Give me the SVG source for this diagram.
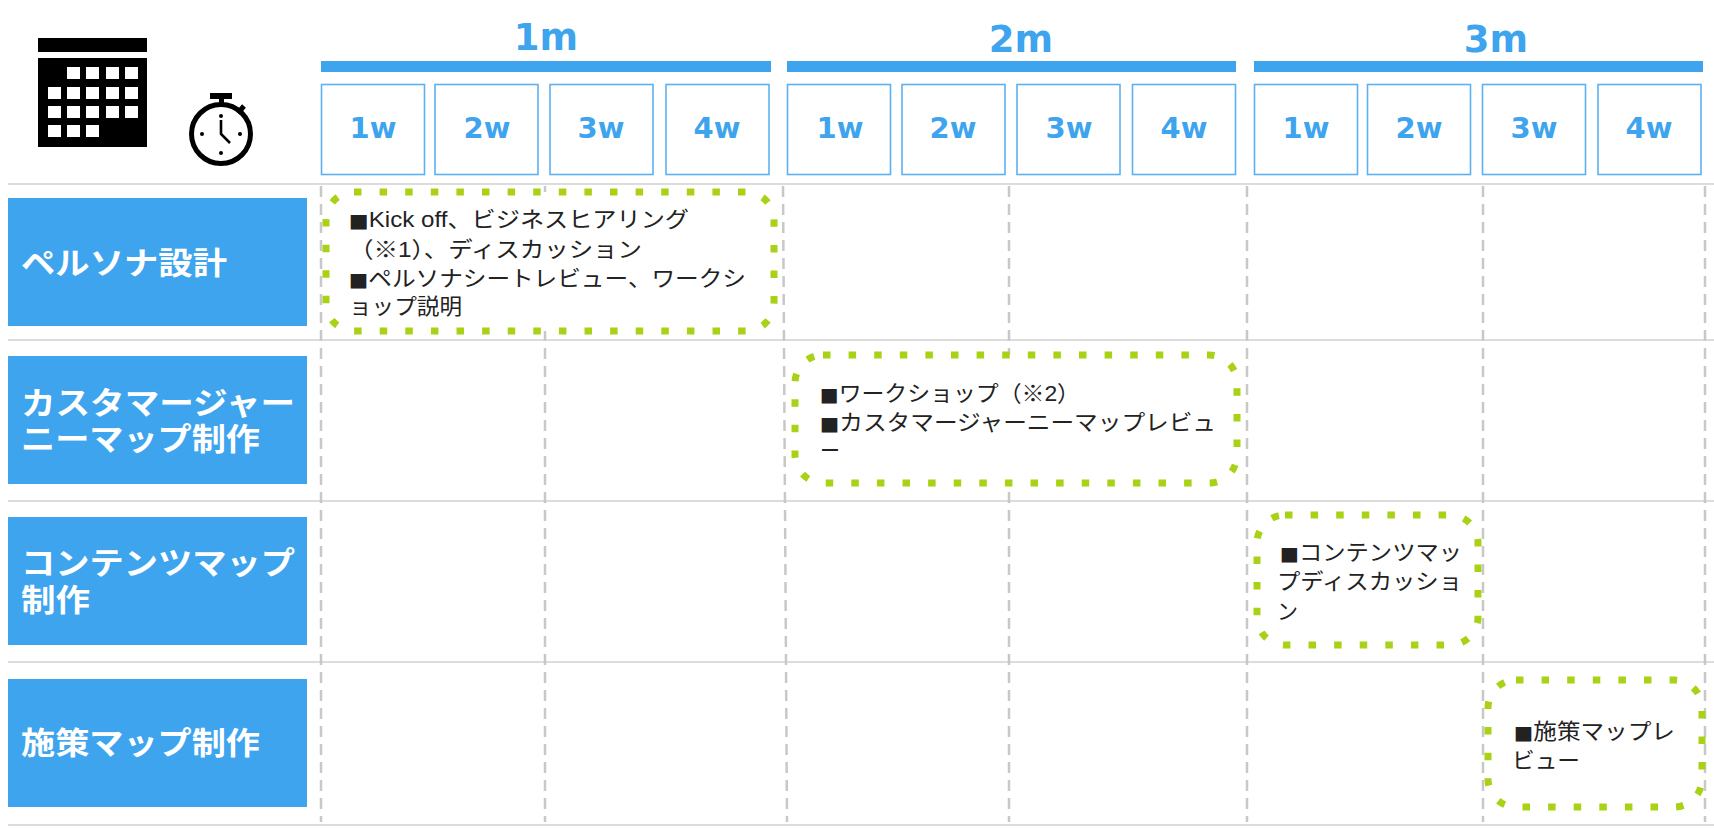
<svg xmlns="http://www.w3.org/2000/svg" width="1714" height="829" viewBox="0 0 1714 829">
<style>
.h{fill:#dcdcdc}
.v{stroke:#c8c8c8;stroke-width:2.5;stroke-dasharray:11 7;fill:none}
.bar{fill:#3fa4ee}
.wk{fill:#fff;stroke:#5db1f0;stroke-width:1.6}
.m{font:bold 37px "DejaVu Sans",Verdana,sans-serif;fill:#3fa4ee;text-anchor:middle}
.w{font:bold 29px "DejaVu Sans",Verdana,sans-serif;fill:#3fa4ee;text-anchor:middle}
.lab{fill:#3fa4ee}
.lt{font:bold 31px "Liberation Sans","Noto Sans CJK JP",sans-serif;fill:#fff}
.dot{fill:#fff;stroke:#a9d116;stroke-width:7;stroke-dasharray:7.500 18.100}
.bt{font:22px "Liberation Sans","Noto Sans CJK JP",sans-serif;fill:#222}
.sm{font-family:"DejaVu Sans",sans-serif;font-size:19px}
.ico{fill:#000}
.sq{fill:#fff}
</style>
<rect width="1714" height="829" fill="#fff"/>
<g id="grid">
<rect class="h" x="8" y="183" width="1706" height="2"/>
<rect class="h" x="8" y="339" width="1706" height="2"/>
<rect class="h" x="8" y="500" width="1706" height="2"/>
<rect class="h" x="8" y="661" width="1706" height="2"/>
<rect class="h" x="8" y="824" width="1706" height="2"/>
<path class="v" d="M321 186V822"/>
<path class="v" d="M545 186V822"/>
<path class="v" d="M783 186L787 822"/>
<path class="v" d="M1009 186V822"/>
<path class="v" d="M1247 186V822"/>
<path class="v" d="M1483 186V822"/>
<path class="v" d="M1705 186V822"/>
</g>
<g id="calendar-icon">
<rect class="ico" x="38" y="38" width="109" height="14"/>
<path class="ico" d="M38 58H147V147H38Z"/>
<g class="sq">
<rect x="67" y="67" width="13" height="12"/><rect x="86" y="67" width="13" height="12"/><rect x="106" y="67" width="13" height="12"/><rect x="125" y="67" width="13" height="12"/>
<rect x="48" y="87" width="13" height="12"/><rect x="67" y="87" width="13" height="12"/><rect x="86" y="87" width="13" height="12"/><rect x="106" y="87" width="13" height="12"/><rect x="125" y="87" width="13" height="12"/>
<rect x="48" y="106" width="13" height="12"/><rect x="67" y="106" width="13" height="12"/><rect x="86" y="106" width="13" height="12"/><rect x="106" y="106" width="13" height="12"/><rect x="125" y="106" width="13" height="12"/>
<rect x="48" y="125" width="13" height="12"/><rect x="67" y="125" width="13" height="12"/><rect x="86" y="125" width="13" height="12"/>
</g>
</g>
<g id="stopwatch-icon">
<circle cx="221" cy="134" r="29.500" fill="#fff" stroke="#000" stroke-width="5"/>
<rect class="ico" x="210" y="93" width="22" height="6"/>
<rect class="ico" x="219" y="98" width="5" height="6"/>
<path d="M238 113L244 106" stroke="#000" stroke-width="5" fill="none"/>
<path d="M221 120V134L230 143" stroke="#000" stroke-width="2.600" fill="none"/>
<circle class="ico" cx="221" cy="116" r="2"/><circle class="ico" cx="221" cy="153" r="2"/><circle class="ico" cx="202" cy="134" r="2"/><circle class="ico" cx="240" cy="134" r="2"/>
</g>
<g id="month-1">
<text class="m" x="546" y="50">1m</text><rect class="bar" x="321" y="61" width="450" height="11"/>
</g>
<g id="month-2">
<text class="m" x="1021" y="52">2m</text><rect class="bar" x="787" y="61" width="449" height="11"/>
</g>
<g id="month-3">
<text class="m" x="1496" y="52">3m</text><rect class="bar" x="1254" y="61" width="449" height="11"/>
</g>
<g id="weeks">
<rect class="wk" x="321.500" y="84.500" width="103" height="90"/><text class="w" x="373" y="138">1w</text>
<rect class="wk" x="435" y="84.500" width="103" height="90"/><text class="w" x="487" y="138">2w</text>
<rect class="wk" x="550" y="84.500" width="103" height="90"/><text class="w" x="601" y="138">3w</text>
<rect class="wk" x="666" y="84.500" width="103" height="90"/><text class="w" x="717" y="138">4w</text>
<rect class="wk" x="787.500" y="84.500" width="103" height="90"/><text class="w" x="840" y="138">1w</text>
<rect class="wk" x="902" y="84.500" width="103" height="90"/><text class="w" x="953" y="138">2w</text>
<rect class="wk" x="1017" y="84.500" width="103" height="90"/><text class="w" x="1069" y="138">3w</text>
<rect class="wk" x="1132.500" y="84.500" width="103" height="90"/><text class="w" x="1184" y="138">4w</text>
<rect class="wk" x="1254.500" y="84.500" width="103" height="90"/><text class="w" x="1306" y="138">1w</text>
<rect class="wk" x="1367.500" y="84.500" width="103" height="90"/><text class="w" x="1419" y="138">2w</text>
<rect class="wk" x="1482.500" y="84.500" width="103" height="90"/><text class="w" x="1534" y="138">3w</text>
<rect class="wk" x="1598" y="84.500" width="103" height="90"/><text class="w" x="1649" y="138">4w</text>
</g>
<g id="row-persona">
<rect class="lab" x="8" y="198" width="299" height="128"/>
<text class="lt" x="21" y="274" textLength="206" lengthAdjust="spacingAndGlyphs">ペルソナ設計</text>
</g>
<g id="row-journey">
<rect class="lab" x="8" y="356" width="299" height="128"/>
<text class="lt" x="21" y="414" textLength="274" lengthAdjust="spacingAndGlyphs">カスタマージャー</text>
<text class="lt" x="21" y="450" textLength="239" lengthAdjust="spacingAndGlyphs">ニーマップ制作</text>
</g>
<g id="row-content">
<rect class="lab" x="8" y="517" width="299" height="128"/>
<text class="lt" x="21" y="574" textLength="274" lengthAdjust="spacingAndGlyphs">コンテンツマップ</text>
<text class="lt" x="21" y="611" textLength="69" lengthAdjust="spacingAndGlyphs">制作</text>
</g>
<g id="row-measure">
<rect class="lab" x="8" y="679" width="299" height="128"/>
<text class="lt" x="21" y="754" textLength="239" lengthAdjust="spacingAndGlyphs">施策マップ制作</text>
</g>
<g id="task-1">
<rect class="dot" x="326" y="192" width="448" height="139" rx="28"/>
<text class="bt" x="349" y="227" textLength="340" lengthAdjust="spacingAndGlyphs"><tspan class="sm">■</tspan>Kick off、ビジネスヒアリング</text>
<text class="bt" x="349" y="257" textLength="293" lengthAdjust="spacingAndGlyphs">（※1）、ディスカッション</text>
<text class="bt" x="349" y="286" textLength="397" lengthAdjust="spacingAndGlyphs"><tspan class="sm">■</tspan>ペルソナシートレビュー、ワークシ</text>
<text class="bt" x="349" y="314" textLength="113" lengthAdjust="spacingAndGlyphs">ョップ説明</text>
</g>
<g id="task-2">
<rect class="dot" x="795" y="355" width="442" height="128" rx="28"/>
<text class="bt" x="820" y="401" textLength="260" lengthAdjust="spacingAndGlyphs"><tspan class="sm">■</tspan>ワークショップ（※2）</text>
<text class="bt" x="820" y="430" textLength="396" lengthAdjust="spacingAndGlyphs"><tspan class="sm">■</tspan>カスタマージャーニーマップレビュ</text>
<text class="bt" x="820" y="458" textLength="20" lengthAdjust="spacingAndGlyphs">ー</text>
</g>
<g id="task-3">
<rect class="dot" x="1257" y="515" width="221" height="130" rx="28"/>
<text class="bt" x="1280" y="560" textLength="182" lengthAdjust="spacingAndGlyphs"><tspan class="sm">■</tspan>コンテンツマッ</text>
<text class="bt" x="1277" y="589" textLength="185" lengthAdjust="spacingAndGlyphs">プディスカッショ</text>
<text class="bt" x="1277" y="619" textLength="21" lengthAdjust="spacingAndGlyphs">ン</text>
</g>
<g id="task-4">
<rect class="dot" x="1488" y="680" width="214" height="127" rx="28"/>
<text class="bt" x="1514" y="739" textLength="161" lengthAdjust="spacingAndGlyphs"><tspan class="sm">■</tspan>施策マップレ</text>
<text class="bt" x="1512" y="768" textLength="68" lengthAdjust="spacingAndGlyphs">ビュー</text>
</g>
</svg>
